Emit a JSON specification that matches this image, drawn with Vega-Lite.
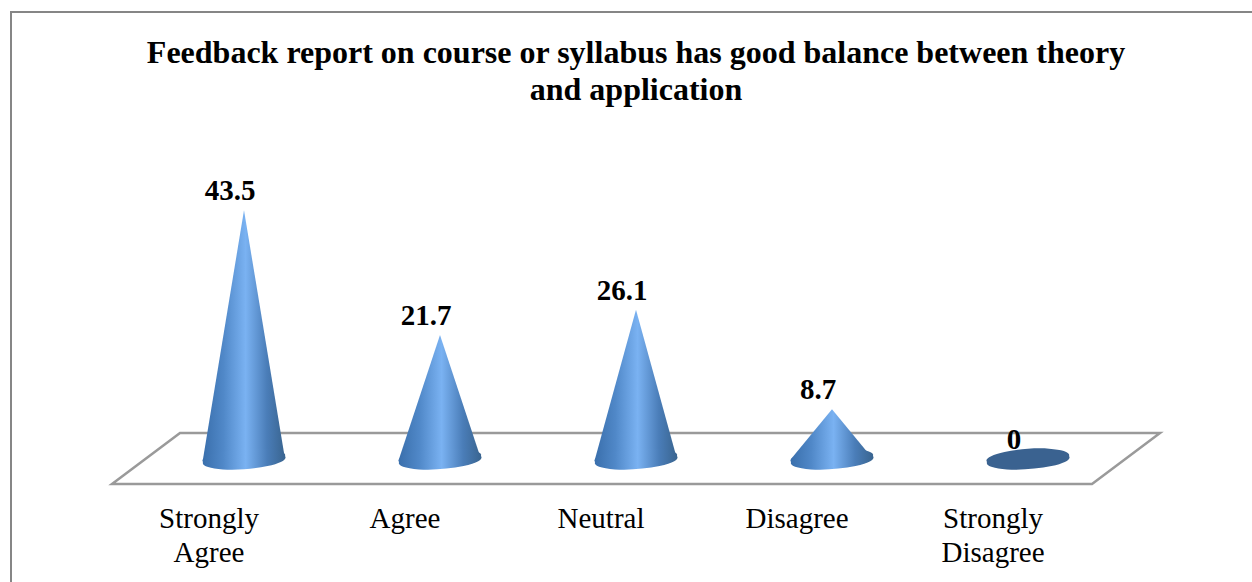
{
"$schema":"https://vega.github.io/schema/vega-lite/v6.json",
"width":1252,"height":582,"padding":0,"autosize":{"type":"none"},
"background":"white",
"view":{"stroke":null},
"title":{"text":["Feedback report on course or syllabus has good balance between theory","and application"],"font":"Liberation Serif","fontSize":32,"fontWeight":"bold","color":"#000000","lineHeight":37,"anchor":"middle","frame":"group","orient":"top","offset":-107,"dx":10},
"datasets":{
"responses":[
{"category":"Strongly Agree","value":43.5},
{"category":"Agree","value":21.7},
{"category":"Neutral","value":26.1},
{"category":"Disagree","value":8.7},
{"category":"Strongly Disagree","value":0}],
"cones":[
{"category":"Strongly Agree","edge":"left","height":0},{"category":"Strongly Agree","edge":"tip","height":43.5},{"category":"Strongly Agree","edge":"right","height":0},
{"category":"Agree","edge":"left","height":0},{"category":"Agree","edge":"tip","height":21.7},{"category":"Agree","edge":"right","height":0},
{"category":"Neutral","edge":"left","height":0},{"category":"Neutral","edge":"tip","height":26.1},{"category":"Neutral","edge":"right","height":0},
{"category":"Disagree","edge":"left","height":0},{"category":"Disagree","edge":"tip","height":8.7},{"category":"Disagree","edge":"right","height":0}]
},
"data":{"name":"responses"},
"encoding":{
"x":{"field":"category","type":"nominal","axis":null,"sort":null,"scale":{"type":"band","domain":["Strongly Agree","Agree","Neutral","Disagree","Strongly Disagree"],"range":[146,1126],"paddingInner":0,"paddingOuter":0}},
"y":{"field":"value","type":"quantitative","axis":null,"scale":{"domain":[-21.5,80.24],"range":[582,0],"nice":false,"zero":false}}
},
"layer":[
{"transform":[{"filter":"datum.category==='Neutral'"}],
 "mark":{"type":"point","shape":"M-625,123 L-625,-447 L616,-447","size":4,"filled":false,"stroke":"#868686","strokeWidth":2,"opacity":1},
 "encoding":{"y":{"datum":0}}},
{"transform":[{"filter":"datum.category==='Neutral'"}],
 "mark":{"type":"point","shape":"M-524,25 L456,25 L524,-26 L-456,-26 Z","size":4,"filled":false,"stroke":"#9a9a9a","strokeWidth":2.5,"opacity":1},
 "encoding":{"y":{"datum":0}}},
{"data":{"name":"cones"},
 "mark":{"type":"area","line":false,"interpolate":"linear","fill":{"gradient":"linear","x1":0,"y1":0,"x2":1,"y2":0,"stops":[{"offset":0,"color":"#3A6FAC"},{"offset":0.25,"color":"#5088C8"},{"offset":0.52,"color":"#7AB2F2"},{"offset":0.78,"color":"#4A7DB8"},{"offset":1,"color":"#39648F"}]}},
 "encoding":{
  "xOffset":{"field":"edge","type":"nominal","sort":null,"scale":{"type":"point","padding":0,"domain":["left","tip","right"],"range":[57,139]}},
  "y":{"field":"height","type":"quantitative","stack":null},
  "detail":{"field":"category"}}},
{"transform":[{"filter":"datum.value>0"}],
 "mark":{"type":"point","shape":"M-41,3 A41.5,9 -4 1 0 41,-3 A41.5,9 -4 1 0 -41,3 Z","size":4,"filled":true,"opacity":1,"fill":{"gradient":"linear","x1":0,"y1":0,"x2":1,"y2":0,"stops":[{"offset":0,"color":"#3A6FAC"},{"offset":0.25,"color":"#5088C8"},{"offset":0.52,"color":"#7AB2F2"},{"offset":0.78,"color":"#4A7DB8"},{"offset":1,"color":"#39648F"}]}},
 "encoding":{"y":{"datum":0}}},
{"transform":[{"filter":"datum.value==0"}],
 "mark":{"type":"point","shape":"M-41,3 A41.5,9 -4 1 1 41,-3 A41.5,9 -4 1 1 -41,3 Z","size":4,"filled":true,"opacity":1,"fill":"#3A6290"},
 "encoding":{"y":{"datum":0}}},
{"mark":{"type":"text","font":"Liberation Serif","fontSize":29,"fontWeight":"bold","color":"#000000","dx":-14,"dy":-19,"baseline":"middle"},
 "encoding":{"text":{"field":"value","type":"quantitative"}}},
{"mark":{"type":"text","font":"Liberation Serif","fontSize":29,"color":"#000000","dx":-35,"baseline":"top","lineBreak":" ","lineHeight":34},
 "encoding":{"y":{"datum":-8},"text":{"field":"category","type":"nominal"}}}
]
}
